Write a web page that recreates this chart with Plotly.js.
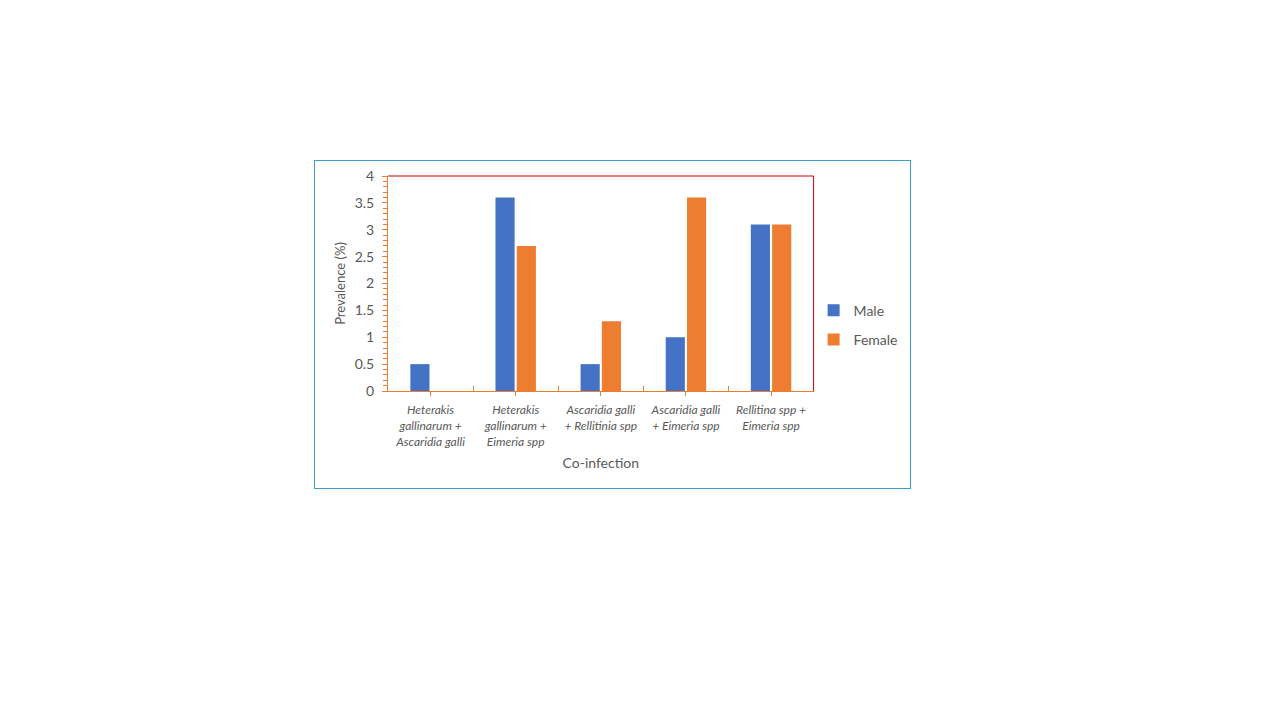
<!DOCTYPE html>
<html>
<head>
<meta charset="utf-8">
<script src="https://cdn.plot.ly/plotly-3.0.1.min.js"></script>
<style>
  html, body { margin: 0; padding: 0; background: #ffffff; width: 1280px; height: 720px; overflow: hidden; }
  #frame { position: absolute; left: 314px; top: 160px; width: 595px; height: 327px; border: 1px solid #3A9FC9; }
  #chart { width: 595px; height: 327px; }
</style>
</head>
<body>
<div id="frame"><div id="chart"></div></div>
<script>
const categories = [
  "Heterakis gallinarum + Ascaridia galli",
  "Heterakis gallinarum + Eimeria spp",
  "Ascaridia galli + Rellitinia spp",
  "Ascaridia galli + Eimeria spp",
  "Rellitina spp + Eimeria spp"
];
const tickLabels = [
  "<i>Heterakis<br>gallinarum +<br>Ascaridia galli</i>",
  "<i>Heterakis<br>gallinarum +<br>Eimeria spp</i>",
  "<i>Ascaridia galli<br>+ Rellitinia spp</i>",
  "<i>Ascaridia galli<br>+ Eimeria spp</i>",
  "<i>Rellitina spp +<br>Eimeria spp</i>"
];
const maleValues = [0.5, 3.6, 0.5, 1.0, 3.1];
const femaleValues = [0, 2.7, 1.3, 3.6, 3.1];

const FONT = "Lato, 'Open Sans', sans-serif";
const GREY = "#595959";
const AXIS = "#ED7D31";

const traces = [
  { type: "bar", name: "Male", x: categories, y: maleValues, marker: { color: "#4472C4" }, legendgroup: "m", hoverinfo: "y" },
  { type: "bar", name: "Female", x: categories, y: femaleValues, marker: { color: "#ED7D31" }, legendgroup: "f", hoverinfo: "y" }
];

const layout = {
  width: 595, height: 327,
  margin: { l: 73, r: 95, t: 15, b: 97 },
  paper_bgcolor: "#ffffff", plot_bgcolor: "#ffffff",
  font: { family: FONT, color: GREY },
  barmode: "group", bargap: 0.5, bargroupgap: 0.1,
  showlegend: true,
  legend: { xref: "container", yref: "container", x: 0.838, y: 0.498, xanchor: "left", yanchor: "middle", itemwidth: 30,
            font: { size: 14, color: GREY, family: FONT }, tracegroupgap: 8, bgcolor: "rgba(0,0,0,0)" },
  xaxis: {
    type: "category", categoryorder: "array", categoryarray: categories,
    tickmode: "array", tickvals: categories, ticktext: tickLabels,
    tickfont: { size: 12, color: GREY, family: FONT },
    ticks: "outside", ticklen: 4, tickcolor: AXIS, tickwidth: 1, ticklabelstandoff: 4,
    showline: true, linecolor: AXIS, linewidth: 1,
    showgrid: false, zeroline: false, tickangle: 0, automargin: false,
    title: { text: "Co-infection", font: { size: 14, color: GREY, family: FONT }, standoff: 10 }
  },
  xaxis2: {
    type: "category", categoryorder: "array", categoryarray: categories,
    overlaying: "x", matches: "x", side: "bottom", anchor: "y",
    tickson: "boundaries", ticks: "inside", ticklen: 5, tickcolor: AXIS, tickwidth: 1,
    showticklabels: false, showline: false, showgrid: false, zeroline: false
  },
  yaxis: {
    range: [0, 4], tickmode: "linear", tick0: 0, dtick: 0.5,
    tickfont: { size: 14, color: GREY, family: FONT },
    ticks: "outside", ticklen: 5, tickcolor: AXIS, tickwidth: 1, ticklabelstandoff: 5,
    minor: { dtick: 0.1, tick0: 0, ticks: "outside", ticklen: 4, tickcolor: AXIS, tickwidth: 1, showgrid: false },
    showline: true, linecolor: AXIS, linewidth: 1,
    showgrid: false, zeroline: false, automargin: false,
    title: { text: "Prevalence (%)", font: { size: 13, color: GREY, family: FONT }, standoff: 6 }
  },
  shapes: [
    { type: "line", xref: "paper", yref: "paper", x0: 0, x1: 1, y0: 1, y1: 1, line: { color: "#C00000", width: 1 } },
    { type: "line", xref: "paper", yref: "paper", x0: 1, x1: 1, y0: 0, y1: 1, line: { color: "#C00000", width: 1 } }
  ]
};

// invisible trace so the boundary-tick overlay axis is drawn
traces.push({ type: "bar", x: categories, y: categories.map(() => null), xaxis: "x2", yaxis: "y", showlegend: false, hoverinfo: "skip", marker: { color: "rgba(0,0,0,0)" } });

Plotly.newPlot("chart", traces, layout, { displayModeBar: false, staticPlot: true });
</script>
</body>
</html>
